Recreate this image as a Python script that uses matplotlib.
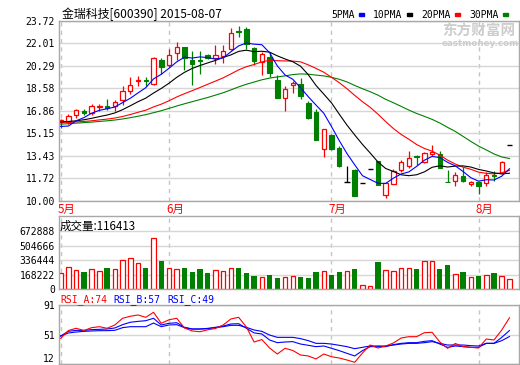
import matplotlib
matplotlib.use("Agg")
import matplotlib.pyplot as plt
from matplotlib.patches import Rectangle
from matplotlib.transforms import blended_transform_factory

# ── data ─────────────────────────────────────────────────────────────────────

title = "金瑞科技[600390] 2015-08-07"

opens  = [15.98, 16.00, 16.51, 16.84, 16.72, 17.15, 17.20, 17.23, 17.72, 18.35,
          19.17, 19.20, 18.89, 20.78, 20.34, 21.24, 21.70, 20.78, 20.78, 21.16,
          20.86, 21.03, 21.57, 22.95, 23.10, 21.67, 20.60, 20.98, 19.20, 17.87,
          18.87, 18.94, 17.46, 16.77, 13.96, 14.98, 14.01, 11.40, 12.38, 11.33,
          12.42, 13.01, 10.44, 11.28, 12.35, 12.68, 13.40, 12.94, 13.58, 13.58,
          11.46, 11.48, 11.92, 11.28, 11.40, 11.33, 11.97, 12.12, 14.23]
highs  = [16.20, 16.64, 17.03, 17.03, 17.41, 17.36, 17.79, 17.66, 18.74, 19.45,
          19.50, 19.45, 20.98, 20.90, 21.55, 22.08, 21.72, 21.40, 21.42, 21.20,
          21.88, 21.90, 23.22, 23.33, 23.28, 21.70, 21.37, 21.37, 19.58, 18.74,
          19.12, 19.33, 17.60, 16.97, 15.46, 15.10, 14.15, 12.63, 12.40, 11.33,
          12.42, 13.05, 11.35, 12.45, 13.14, 13.78, 13.50, 13.70, 14.27, 13.78,
          12.35, 12.17, 12.55, 11.53, 11.42, 12.17, 12.25, 13.00, 14.23]
lows   = [15.55, 15.82, 16.30, 16.51, 16.51, 16.84, 16.90, 16.84, 17.28, 18.12,
          18.76, 18.74, 18.85, 19.70, 20.21, 20.73, 19.96, 18.87, 19.66, 20.80,
          20.47, 20.50, 21.50, 22.51, 21.57, 20.34, 19.63, 19.45, 17.84, 16.84,
          18.22, 17.74, 16.25, 14.65, 13.32, 13.90, 12.60, 11.40, 10.33, 11.33,
          12.42, 11.20, 10.20, 11.25, 12.17, 12.50, 12.74, 12.90, 13.45, 12.50,
          11.40, 11.15, 11.40, 11.15, 10.51, 11.15, 11.53, 12.05, 14.23]
closes = [16.15, 16.46, 16.90, 16.69, 17.20, 17.23, 17.10, 17.51, 18.40, 18.87,
          19.25, 19.12, 20.86, 20.17, 21.16, 21.70, 20.93, 20.47, 20.65, 20.90,
          21.11, 21.42, 22.77, 22.90, 22.00, 20.67, 21.19, 19.76, 17.84, 18.56,
          19.02, 17.99, 16.28, 14.67, 15.44, 13.91, 12.63, 11.40, 10.33, 11.33,
          12.42, 11.20, 11.33, 12.30, 12.94, 13.24, 13.30, 13.65, 13.75, 12.50,
          11.43, 11.99, 11.48, 11.40, 11.15, 11.99, 11.88, 12.94, 14.23]

ma5  = [15.67, 15.70, 16.10, 16.34, 16.68, 16.90, 17.02, 17.15, 17.49, 17.82,
        18.23, 18.63, 19.30, 19.65, 20.11, 20.60, 20.96, 20.89, 20.98, 20.93,
        20.81, 20.91, 21.37, 21.82, 22.04, 21.95, 21.91, 21.30, 20.29, 19.60,
        19.27, 18.63, 17.94, 17.30, 16.68, 15.66, 14.59, 13.60, 12.74, 11.91,
        11.62, 11.33, 11.32, 11.72, 12.04, 12.20, 12.62, 13.09, 13.38, 13.29,
        12.93, 12.66, 12.23, 11.76, 11.49, 11.60, 11.58, 11.87, 12.44]
ma10 = [16.02, 16.05, 16.10, 16.18, 16.29, 16.42, 16.54, 16.70, 16.95, 17.25,
        17.56, 17.83, 18.22, 18.57, 18.97, 19.42, 19.80, 20.10, 20.32, 20.52,
        20.71, 20.94, 21.13, 21.40, 21.49, 21.38, 21.41, 21.34, 21.06, 20.82,
        20.61, 20.27, 19.62, 18.80, 18.14, 17.47, 16.61, 15.77, 15.02, 14.30,
        13.64, 12.96, 12.46, 12.23, 11.98, 11.91, 11.98, 12.20, 12.55, 12.67,
        12.57, 12.64, 12.66, 12.57, 12.39, 12.27, 12.12, 12.05, 12.10]
ma20 = [15.98, 16.00, 16.02, 16.05, 16.10, 16.17, 16.23, 16.31, 16.43, 16.58,
        16.75, 16.91, 17.16, 17.37, 17.63, 17.92, 18.17, 18.40, 18.64, 18.89,
        19.13, 19.38, 19.68, 19.99, 20.23, 20.40, 20.60, 20.72, 20.69, 20.67,
        20.66, 20.60, 20.37, 20.10, 19.81, 19.42, 19.01, 18.55, 18.04, 17.56,
        17.13, 16.61, 16.04, 15.51, 15.06, 14.69, 14.29, 13.99, 13.78, 13.48,
        13.10, 12.80, 12.56, 12.40, 12.18, 12.09, 12.05, 12.13, 12.32]
ma30 = [15.85, 15.88, 15.92, 15.96, 16.00, 16.05, 16.10, 16.16, 16.24, 16.34,
        16.45, 16.57, 16.72, 16.87, 17.05, 17.23, 17.40, 17.56, 17.72, 17.88,
        18.06, 18.24, 18.46, 18.69, 18.89, 19.06, 19.23, 19.36, 19.45, 19.53,
        19.63, 19.68, 19.66, 19.59, 19.53, 19.42, 19.27, 19.07, 18.80, 18.55,
        18.32, 18.06, 17.74, 17.48, 17.20, 16.92, 16.66, 16.44, 16.21, 15.93,
        15.60, 15.29, 14.91, 14.53, 14.17, 13.88, 13.57, 13.34, 13.22]

volumes = [187500, 263700, 229600, 198900, 241000, 206900, 252300, 241000, 343300, 366000,
           301200, 252300, 593300, 323900, 252300, 241000, 252300, 198900, 233000, 187500,
           218200, 206900, 252300, 244400, 187500, 153400, 145500, 164800, 130700, 138700,
           150000, 142100, 130700, 198900, 210300, 164800, 198900, 206900, 233000, 47700,
           39800, 312600, 218200, 206900, 252300, 252300, 233000, 331900, 331900, 233000,
           278500, 172800, 198900, 138700, 153400, 161400, 187500, 153400, 116413]
vol_colors = list("rrrgrrgrrr" "rgrgrrgggg" "rrrgggrggr"
                  "rgggrggrgr" "rgrrrrgrrg" "grgrgrgrr")

rsi_a = [46.6, 57.0, 60.0, 57.0, 60.8, 62.1, 60.0, 64.4, 73.3, 76.0,
         77.7, 74.6, 81.3, 66.6, 71.3, 73.3, 60.4, 56.4, 55.4, 58.0,
         59.7, 64.4, 72.4, 74.6, 61.7, 41.7, 45.0, 33.7, 25.7, 33.3,
         30.4, 24.4, 23.1, 19.1, 25.7, 22.1, 20.4, 17.7, 14.7, 27.0,
         37.7, 33.7, 36.4, 40.4, 47.0, 48.8, 48.8, 54.1, 54.6, 41.7,
         33.3, 39.7, 35.7, 34.6, 33.7, 45.7, 44.4, 57.7, 74.0]
rsi_b = [49.7, 56.0, 57.2, 57.2, 58.2, 58.6, 59.0, 60.4, 64.8, 68.0,
         69.2, 70.1, 73.3, 64.4, 66.6, 67.4, 61.3, 59.0, 59.0, 59.4,
         61.3, 63.0, 65.7, 66.1, 60.0, 53.8, 52.4, 44.4, 40.8, 41.7,
         42.2, 39.0, 37.3, 35.5, 36.4, 33.3, 30.2, 26.6, 23.1, 30.2,
         35.5, 35.5, 35.5, 38.2, 39.9, 40.8, 40.8, 42.6, 43.5, 39.0,
         34.6, 36.4, 35.5, 34.6, 34.6, 39.9, 39.9, 47.9, 57.0]
rsi_c = [49.7, 53.7, 55.0, 55.9, 56.4, 56.8, 56.8, 57.3, 60.8, 62.1,
         62.1, 62.1, 67.0, 62.1, 64.4, 64.8, 60.8, 59.0, 59.0, 59.9,
         60.8, 62.1, 63.9, 63.9, 61.2, 57.7, 55.9, 51.0, 47.9, 47.9,
         47.9, 46.2, 43.5, 39.9, 39.9, 39.0, 37.3, 35.5, 32.8, 34.6,
         36.4, 36.4, 36.4, 37.7, 39.0, 39.9, 39.9, 40.8, 42.2, 39.9,
         37.7, 37.7, 37.7, 36.8, 36.4, 39.9, 39.9, 43.5, 49.0]

month_labels = ["5月", "6月", "7月", "8月"]
month_starts = [0, 14, 35, 54]

price_ticks = [10.00, 11.72, 13.43, 15.15, 16.86, 18.58, 20.29, 22.01, 23.72]
vol_ticks = [0, 168222, 336444, 504666, 672888]
rsi_ticks = [12, 51, 91]

ma_names = ["5PMA", "10PMA", "20PMA", "30PMA"]

# ── styling ──────────────────────────────────────────────────────────────────

W, H = 520, 365
RED, GREEN, BLUE = "#ff0000", "#008000", "#0000ff"
GRID, FRAME, DASH = "#d6d6d6", "#a8a8a8", "#c4c4c4"
MONO = ["DejaVu Sans Mono"]
CJK = ["Noto Sans CJK SC", "DejaVu Sans"]
ma_colors = [BLUE, "black", RED, GREEN]


def fx(px):
    return px / W


def fy(py):
    return 1 - py / H


fig = plt.figure(figsize=(W / 100, H / 100), dpi=100)
fig.patch.set_facecolor("white")

X_LEFT, X_RIGHT = 58.5, 519.3


def panel(top, bottom):
    ax = fig.add_axes([fx(X_LEFT), fy(bottom), (X_RIGHT - X_LEFT) / W, (bottom - top) / H])
    for s in ax.spines.values():
        s.set_color(FRAME)
        s.set_linewidth(1)
    ax.set_xlim(-0.28, 59.27)
    ax.set_xticks([])
    ax.tick_params(axis="y", length=0, pad=2.5, labelsize=7)
    for lab in ax.get_yticklabels():
        lab.set_family(MONO)
    ax.set_axisbelow(True)
    for m in month_starts:
        ax.axvline(m, color=DASH, lw=1, ls=(0, (3, 3)), zorder=0)
    return ax


x = list(range(len(closes)))

# ── price panel ─────────────────────────────────────────────────────────────
ax = panel(21, 200.7)
ax.set_ylim(price_ticks[0], price_ticks[-1])
ax.set_yticks(price_ticks)
ax.set_yticklabels([f"{t:.2f}" for t in price_ticks], family=MONO)
ax.grid(axis="y", color=GRID, lw=1)

for i, (o, h, l, c) in enumerate(zip(opens, highs, lows, closes)):
    if c > o:
        ax.vlines(i, c, h, color=RED, lw=0.9, zorder=2)
        ax.vlines(i, l, o, color=RED, lw=0.9, zorder=2)
        ax.bar(i, c - o, bottom=o, width=0.56, color="white", edgecolor=RED, lw=0.9, zorder=2)
    elif c < o:
        ax.vlines(i, l, h, color=GREEN, lw=0.9, zorder=2)
        ax.bar(i, o - c, bottom=c, width=0.58, color=GREEN, edgecolor=GREEN, lw=0.8, zorder=2)
    else:
        ax.vlines(i, l, h, color="black", lw=0.9, zorder=2)
        ax.hlines(c, i - 0.33, i + 0.33, color="black", lw=1, zorder=2)

for series, col in zip([ma30, ma20, ma10, ma5], ma_colors[::-1]):
    ax.plot(x, series, color=col, lw=0.8, zorder=3)

tr = blended_transform_factory(ax.transData, ax.transAxes)
for lab, m in zip(month_labels, month_starts):
    ax.text(m - 0.4, -0.012, lab, transform=tr, color=RED, fontsize=8.3,
            family=CJK, va="top", ha="left")

# title, legend, watermark
fig.text(fx(62), fy(14), title, fontsize=8.6, family=CJK, va="center")
leg_x = [331, 373, 421, 469]
for name, col, lx in zip(ma_names, ma_colors, leg_x):
    t = fig.text(fx(lx), fy(14.5), name, fontsize=7, family=MONO, va="center")
    sq_x = lx + 6.0 * len(name) + 4
    fig.patches.append(Rectangle((fx(sq_x), fy(16.2)), 5 / W, 3.6 / H,
                                 transform=fig.transFigure, color=col))
fig.text(fx(442), fy(30.5), "东方财富网", fontsize=10.5, family=CJK,
         weight="bold", color="#cdcdcd", va="center")
fig.text(fx(442), fy(43.5), "eastmoney.com", fontsize=6.3, family=["DejaVu Sans"],
         weight="bold", color="#cdcdcd", va="center")

# ── volume panel ────────────────────────────────────────────────────────────
axv = panel(216, 289.3)
axv.set_ylim(0, 850388)
axv.set_yticks(vol_ticks)
axv.set_yticklabels([str(t) for t in vol_ticks], family=MONO)
axv.grid(axis="y", color=GRID, lw=1)
for i, (v, col) in enumerate(zip(volumes, vol_colors)):
    if col == "r":
        axv.bar(i, v, width=0.58, color="white", edgecolor=RED, lw=0.9, zorder=2)
    else:
        axv.bar(i, v, width=0.68, color=GREEN, zorder=2)
fig.text(fx(59.5), fy(226), f"成交量:{volumes[-1]}", fontsize=8.3, family=CJK, va="center")

# ── RSI panel ───────────────────────────────────────────────────────────────
axr = panel(305, 364.3)
axr.set_ylim(rsi_ticks[0], rsi_ticks[-1])
axr.set_yticks(rsi_ticks)
axr.set_yticklabels([str(t) for t in rsi_ticks], family=MONO)
axr.get_yticklabels()[0].set_verticalalignment("bottom")
axr.grid(axis="y", color=GRID, lw=1)
axr.plot(x, rsi_c, color=BLUE, lw=0.8, zorder=3)
axr.plot(x, rsi_b, color=BLUE, lw=0.8, zorder=3)
axr.plot(x, rsi_a, color=RED, lw=0.8, zorder=3)

for name, vals, col, px in [("RSI_A", rsi_a, RED, 60), ("RSI_B", rsi_b, BLUE, 113),
                            ("RSI_C", rsi_c, BLUE, 167)]:
    fig.text(fx(px), fy(300), f"{name}:{vals[-1]:.0f}", fontsize=7, family=MONO,
             color=col, va="center")

fig.savefig("out.png", dpi=100)
